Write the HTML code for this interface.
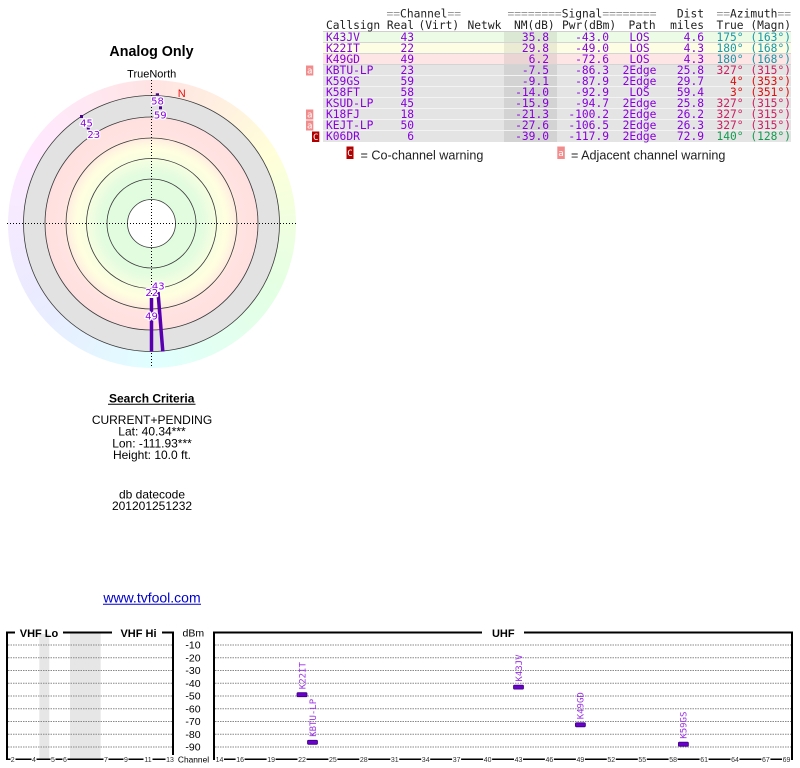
<!DOCTYPE html>
<html><head><meta charset="utf-8">
<style>
html,body{margin:0;padding:0;background:#fff}
body{width:800px;height:768px;position:relative;overflow:hidden}
#wheel{position:absolute;left:7.5px;top:79.5px;width:288px;height:288px;border-radius:50%;
background:conic-gradient(from 0deg,hsl(0,100%,94.5%),hsl(30,100%,94%),hsl(60,100%,92.5%),hsl(90,100%,94%),hsl(120,100%,94.5%),hsl(150,100%,94.5%),hsl(180,100%,94%),hsl(210,100%,95%),hsl(240,100%,96%),hsl(270,100%,96%),hsl(300,100%,95.5%),hsl(330,100%,95.5%),hsl(360,100%,94.5%))}
svg{position:absolute;left:0;top:0}
</style></head><body>
<div id="wheel"></div>
<svg width="800" height="768" viewBox="0 0 800 768" xmlns="http://www.w3.org/2000/svg">
<defs>
<radialGradient id="rg" gradientUnits="userSpaceOnUse" cx="151.5" cy="223.5" r="106.5">
 <stop offset="0" stop-color="#dffcdf"/>
 <stop offset="0.47" stop-color="#e2fcdf"/>
 <stop offset="0.56" stop-color="#effde0"/>
 <stop offset="0.64" stop-color="#fbfee0"/>
 <stop offset="0.7" stop-color="#ffffe0"/>
 <stop offset="0.76" stop-color="#fff5e0"/>
 <stop offset="0.83" stop-color="#ffe3e1"/>
 <stop offset="1" stop-color="#ffe0e0"/>
</radialGradient>
</defs>

<!-- Radar -->
<g stroke="#3a3a3a" stroke-width="0.8" fill="none">
<circle cx="151.5" cy="223.5" r="128" fill="#e2e2e2"/>
<circle cx="151.5" cy="223.5" r="106.5" fill="url(#rg)"/>
<circle cx="151.5" cy="223.5" r="85.5"/>
<circle cx="151.5" cy="223.5" r="65"/>
<circle cx="151.5" cy="223.5" r="44.5"/>
<circle cx="151.5" cy="223.5" r="24" fill="#fff"/>
</g>
<g stroke="#000" stroke-width="1" stroke-dasharray="1 2">
<line x1="7" y1="223.5" x2="296" y2="223.5"/>
<line x1="151.5" y1="80" x2="151.5" y2="368"/>
</g>
<g stroke="#5800b0" stroke-width="3.5">
<line x1="158" y1="292" x2="162.8" y2="351.5"/>
<line x1="151.5" y1="298" x2="151.5" y2="351.5"/>
</g>
<g fill="#4a0090">
<rect x="155.8" y="93.3" width="3.2" height="2"/>
<rect x="159" y="106.3" width="3" height="3"/>
<rect x="80" y="115" width="3" height="3"/>
<rect x="86.8" y="127" width="3" height="2.5"/>
</g>
<g font-family="'DejaVu Sans',sans-serif" font-size="10" fill="#8a00e0" text-anchor="middle" stroke="#fff" stroke-width="2.5" paint-order="stroke" stroke-linejoin="round">
<text x="157.5" y="104.7">58</text>
<text x="160.2" y="118.7">59</text>
<text x="86.5" y="126.4">45</text>
<text x="93.8" y="138">23</text>
<text x="158.2" y="289.4">43</text>
<text x="151.8" y="296">22</text>
<text x="151.5" y="319.7">49</text>
</g>
<text x="181.7" y="97" font-family="'Liberation Sans',sans-serif" font-size="11" fill="#e81010" text-anchor="middle">N</text>

<!-- Left panel text -->
<g font-family="'Liberation Sans',Arial,sans-serif" fill="#000" text-anchor="middle">
<text x="151.5" y="56" font-size="14.3" font-weight="bold">Analog Only</text>
<text x="151.7" y="77.3" font-size="11">TrueNorth</text>
<text x="151.7" y="402.3" font-size="12" font-weight="bold">Search Criteria</text>
<text x="152" y="424" font-size="12">CURRENT+PENDING</text>
<text x="152" y="435.7" font-size="12">Lat: 40.34***</text>
<text x="152" y="447.6" font-size="12">Lon: -111.93***</text>
<text x="152" y="459.2" font-size="12">Height: 10.0 ft.</text>
<text x="152" y="498.3" font-size="12">db datecode</text>
<text x="152" y="509.8" font-size="12">201201251232</text>
<text x="152" y="602.5" font-size="14" fill="#0000cc">www.tvfool.com</text>
</g>
<line x1="108" y1="404.3" x2="195.5" y2="404.3" stroke="#000" stroke-width="1"/>
<line x1="103" y1="604.3" x2="201" y2="604.3" stroke="#0000cc" stroke-width="1"/>

<!-- Table -->
<rect x="323" y="31.5" width="468" height="11" fill="#ecfbe5"/>
<rect x="323" y="42.5" width="468" height="11" fill="#fdfde3"/>
<rect x="323" y="53.5" width="468" height="11" fill="#fde5e5"/>
<rect x="323" y="64.5" width="468" height="77.5" fill="#e4e4e4"/>
<rect x="504" y="31.5" width="53" height="110.5" fill="#000" fill-opacity="0.07"/>
<g stroke-width="1">
<line x1="323" y1="31.5" x2="791" y2="31.5" stroke="#cfcfcf"/>
<line x1="323" y1="42.5" x2="791" y2="42.5" stroke="#d4d4d4"/>
<line x1="323" y1="53.5" x2="791" y2="53.5" stroke="#d4d4d4"/>
<line x1="323" y1="64.5" x2="791" y2="64.5" stroke="#d4d4d4"/>
<line x1="323" y1="75.5" x2="791" y2="75.5" stroke="#f3f3f3"/>
<line x1="323" y1="86.5" x2="791" y2="86.5" stroke="#f3f3f3"/>
<line x1="323" y1="97.5" x2="791" y2="97.5" stroke="#f3f3f3"/>
<line x1="323" y1="108.5" x2="791" y2="108.5" stroke="#f3f3f3"/>
<line x1="323" y1="119.5" x2="791" y2="119.5" stroke="#f3f3f3"/>
<line x1="323" y1="130.5" x2="791" y2="130.5" stroke="#f3f3f3"/>
</g>

<g font-family="'DejaVu Sans Mono','Liberation Mono',monospace" font-size="11.25" fill="#222">
<text x="386.5" y="17.5"><tspan fill="#999">==</tspan>Channel<tspan fill="#999">==</tspan></text>
<text x="507.5" y="17.5"><tspan fill="#999">========</tspan>Signal<tspan fill="#999">========</tspan></text>
<text x="704" y="17.5" text-anchor="end">Dist</text>
<text x="791" y="17.5" text-anchor="end"><tspan fill="#999">==</tspan>Azimuth<tspan fill="#999">==</tspan></text>
<text x="326" y="29">Callsign</text>
<text x="414" y="29" text-anchor="end">Real</text>
<text x="418.5" y="29">(Virt)</text>
<text x="467.5" y="29">Netwk</text>
<text x="514" y="29">NM(dB)</text>
<text x="562" y="29">Pwr(dBm)</text>
<text x="628.5" y="29">Path</text>
<text x="704" y="29" text-anchor="end">miles</text>
<text x="791" y="29" text-anchor="end">True (Magn)</text>
</g>

<g font-family="'DejaVu Sans Mono','Liberation Mono',monospace" font-size="11.25" fill="#8800dd">
<text x="326" y="41.2">K43JV</text>
<text x="326" y="52.2">K22IT</text>
<text x="326" y="63.2">K49GD</text>
<text x="326" y="74.2">KBTU-LP</text>
<text x="326" y="85.2">K59GS</text>
<text x="326" y="96.2">K58FT</text>
<text x="326" y="107.2">KSUD-LP</text>
<text x="326" y="118.2">K18FJ</text>
<text x="326" y="129.2">KEJT-LP</text>
<text x="326" y="140.2">K06DR</text>
</g>
<g font-family="'DejaVu Sans Mono','Liberation Mono',monospace" font-size="11.25" fill="#8800dd" text-anchor="end">
<text x="414" y="41.2">43</text><text x="549" y="41.2">35.8</text><text x="609" y="41.2">-43.0</text><text x="704" y="41.2">4.6</text>
<text x="414" y="52.2">22</text><text x="549" y="52.2">29.8</text><text x="609" y="52.2">-49.0</text><text x="704" y="52.2">4.3</text>
<text x="414" y="63.2">49</text><text x="549" y="63.2">6.2</text><text x="609" y="63.2">-72.6</text><text x="704" y="63.2">4.3</text>
<text x="414" y="74.2">23</text><text x="549" y="74.2">-7.5</text><text x="609" y="74.2">-86.3</text><text x="704" y="74.2">25.8</text>
<text x="414" y="85.2">59</text><text x="549" y="85.2">-9.1</text><text x="609" y="85.2">-87.9</text><text x="704" y="85.2">29.7</text>
<text x="414" y="96.2">58</text><text x="549" y="96.2">-14.0</text><text x="609" y="96.2">-92.9</text><text x="704" y="96.2">59.4</text>
<text x="414" y="107.2">45</text><text x="549" y="107.2">-15.9</text><text x="609" y="107.2">-94.7</text><text x="704" y="107.2">25.8</text>
<text x="414" y="118.2">18</text><text x="549" y="118.2">-21.3</text><text x="609" y="118.2">-100.2</text><text x="704" y="118.2">26.2</text>
<text x="414" y="129.2">50</text><text x="549" y="129.2">-27.6</text><text x="609" y="129.2">-106.5</text><text x="704" y="129.2">26.3</text>
<text x="414" y="140.2">6</text><text x="549" y="140.2">-39.0</text><text x="609" y="140.2">-117.9</text><text x="704" y="140.2">72.9</text>
</g>
<g font-family="'DejaVu Sans Mono','Liberation Mono',monospace" font-size="11.25" fill="#8800dd" text-anchor="middle">
<text x="639.5" y="41.2">LOS</text>
<text x="639.5" y="52.2">LOS</text>
<text x="639.5" y="63.2">LOS</text>
<text x="639.5" y="74.2">2Edge</text>
<text x="639.5" y="85.2">2Edge</text>
<text x="639.5" y="96.2">LOS</text>
<text x="639.5" y="107.2">2Edge</text>
<text x="639.5" y="118.2">2Edge</text>
<text x="639.5" y="129.2">2Edge</text>
<text x="639.5" y="140.2">2Edge</text>
</g>
<g font-family="'DejaVu Sans Mono','Liberation Mono',monospace" font-size="11.25" text-anchor="end">
<text x="791" y="41.2" fill="#1897a8">175° (163°)</text>
<text x="791" y="52.2" fill="#1897a8">180° (168°)</text>
<text x="791" y="63.2" fill="#1897a8">180° (168°)</text>
<text x="791" y="74.2" fill="#cc2060">327° (315°)</text>
<text x="791" y="85.2" fill="#dd1010">4° (353°)</text>
<text x="791" y="96.2" fill="#dd1010">3° (351°)</text>
<text x="791" y="107.2" fill="#cc2060">327° (315°)</text>
<text x="791" y="118.2" fill="#cc2060">327° (315°)</text>
<text x="791" y="129.2" fill="#cc2060">327° (315°)</text>
<text x="791" y="140.2" fill="#159a50">140° (128°)</text>
</g>

<!-- warning icons -->
<g fill="#f28c8c">
<rect x="306" y="65.5" width="7.3" height="10"/>
<rect x="306" y="109.5" width="7.3" height="10"/>
<rect x="306" y="120.5" width="7.3" height="10"/>
<rect x="557.3" y="146.5" width="7.5" height="12.5"/>
</g>
<g fill="#b00000">
<rect x="312" y="131.5" width="7.3" height="10.5"/>
<rect x="346.5" y="146.5" width="7" height="12.5"/>
</g>
<g font-family="'DejaVu Sans Mono',monospace" font-size="9" fill="#fff" text-anchor="middle">
<text x="309.7" y="73.5">a</text>
<text x="309.7" y="117.5">a</text>
<text x="309.7" y="128.5">a</text>
<text x="315.7" y="140">C</text>
<text x="350" y="156">C</text>
<text x="561" y="156">a</text>
</g>
<g font-family="'Liberation Sans',Arial,sans-serif" font-size="12.6" fill="#222">
<text x="360.5" y="159.3">= Co-channel warning</text>
<text x="571" y="159.3">= Adjacent channel warning</text>
</g>

<!-- Bottom chart -->
<rect x="39.3" y="634" width="10" height="124.5" fill="#e6e6e6"/>
<rect x="70" y="633.5" width="30.7" height="125" fill="#e6e6e6"/>
<g stroke="#888" stroke-width="1" stroke-dasharray="1.5 1">
<path d="M8 645H173M8 657.75H173M8 670.5H173M8 683.25H173M8 696H173M8 708.75H173M8 721.5H173M8 734.25H173M8 747H173"/>
<path d="M215 645H792M215 657.75H792M215 670.5H792M215 683.25H792M215 696H792M215 708.75H792M215 721.5H792M215 734.25H792M215 747H792"/>
</g>
<g stroke="#000" stroke-width="2" fill="none">
<path d="M7 760V632.5H15M63 632.5H112M162 632.5H173V760"/>
<path d="M214 760V632.5H482M524 632.5H792V760"/>
</g>
<g stroke="#000" stroke-width="1.5">
<line x1="7" y1="759.3" x2="173" y2="759.3"/>
<line x1="214" y1="759.3" x2="792" y2="759.3"/>
</g>
<g font-family="'Liberation Sans',Arial,sans-serif" font-weight="bold" font-size="11" fill="#000" text-anchor="middle">
<text x="39" y="637">VHF Lo</text>
<text x="138.5" y="637">VHF Hi</text>
<text x="503.3" y="637">UHF</text>
</g>
<g font-family="'Liberation Sans',Arial,sans-serif" font-size="10.5" fill="#000" text-anchor="middle">
<text x="193.3" y="636.5">dBm</text>
<text x="193" y="648.7">-10</text>
<text x="193" y="661.5">-20</text>
<text x="193" y="674.2">-30</text>
<text x="193" y="687">-40</text>
<text x="193" y="699.7">-50</text>
<text x="193" y="712.5">-60</text>
<text x="193" y="725.2">-70</text>
<text x="193" y="738">-80</text>
<text x="193" y="750.7">-90</text>
<text x="193.5" y="762.3" font-size="8.4">Channel</text>
</g>
<g fill="#fff">
<rect x="10.5" y="755" width="5" height="9"/><rect x="31.5" y="755" width="5" height="9"/><rect x="50.5" y="755" width="5" height="9"/><rect x="62.5" y="755" width="5" height="9"/><rect x="103.5" y="755" width="5" height="9"/><rect x="123.5" y="755" width="5" height="9"/><rect x="143.5" y="755" width="9" height="9"/><rect x="165.5" y="755" width="9" height="9"/>
<rect x="215" y="755" width="9" height="9"/><rect x="235.6" y="755" width="9" height="9"/><rect x="266.6" y="755" width="9" height="9"/><rect x="297.5" y="755" width="9" height="9"/><rect x="328.4" y="755" width="9" height="9"/><rect x="359.3" y="755" width="9" height="9"/><rect x="390.3" y="755" width="9" height="9"/><rect x="421.2" y="755" width="9" height="9"/><rect x="452.1" y="755" width="9" height="9"/><rect x="483.1" y="755" width="9" height="9"/><rect x="514" y="755" width="9" height="9"/><rect x="544.9" y="755" width="9" height="9"/><rect x="575.9" y="755" width="9" height="9"/><rect x="606.8" y="755" width="9" height="9"/><rect x="637.8" y="755" width="9" height="9"/><rect x="668.6" y="755" width="9" height="9"/><rect x="699.6" y="755" width="9" height="9"/><rect x="730.5" y="755" width="9" height="9"/><rect x="761.4" y="755" width="9" height="9"/><rect x="782" y="755" width="9" height="9"/>
</g>
<g font-family="'Liberation Sans',Arial,sans-serif" font-size="7" fill="#333" text-anchor="middle">
<text x="12.7" y="761.8">2</text><text x="34" y="761.8">4</text><text x="53" y="761.8">5</text><text x="65" y="761.8">6</text><text x="106" y="761.8">7</text><text x="126" y="761.8">9</text><text x="148" y="761.8">11</text><text x="170" y="761.8">13</text>
<text x="219.5" y="761.8">14</text><text x="240.1" y="761.8">16</text><text x="271.1" y="761.8">19</text><text x="302" y="761.8">22</text><text x="332.9" y="761.8">25</text><text x="363.8" y="761.8">28</text><text x="394.8" y="761.8">31</text><text x="425.7" y="761.8">34</text><text x="456.6" y="761.8">37</text><text x="487.6" y="761.8">40</text><text x="518.5" y="761.8">43</text><text x="549.4" y="761.8">46</text><text x="580.4" y="761.8">49</text><text x="611.3" y="761.8">52</text><text x="642.3" y="761.8">55</text><text x="673.1" y="761.8">58</text><text x="704.1" y="761.8">61</text><text x="735" y="761.8">64</text><text x="765.9" y="761.8">67</text><text x="786.5" y="761.8">69</text>
</g>
<g fill="#6a00cc" stroke="#3d0080" stroke-width="0.8">
<rect x="297" y="692.7" width="10" height="4" rx="1"/>
<rect x="307.5" y="740.3" width="10" height="4" rx="1"/>
<rect x="513.5" y="685.1" width="10" height="4" rx="1"/>
<rect x="575.4" y="722.8" width="10" height="4" rx="1"/>
<rect x="678.4" y="742.2" width="10" height="4" rx="1"/>
</g>
<g font-family="'DejaVu Sans Mono','Liberation Mono',monospace" font-size="9" fill="#9b30e8">
<text transform="translate(305.3,689.2) rotate(-90)">K22IT</text>
<text transform="translate(315.8,736.8) rotate(-90)">KBTU-LP</text>
<text transform="translate(521.8,681.6) rotate(-90)">K43JV</text>
<text transform="translate(583.7,719.3) rotate(-90)">K49GD</text>
<text transform="translate(686.7,738.7) rotate(-90)">K59GS</text>
</g>
</svg>
</body></html>
